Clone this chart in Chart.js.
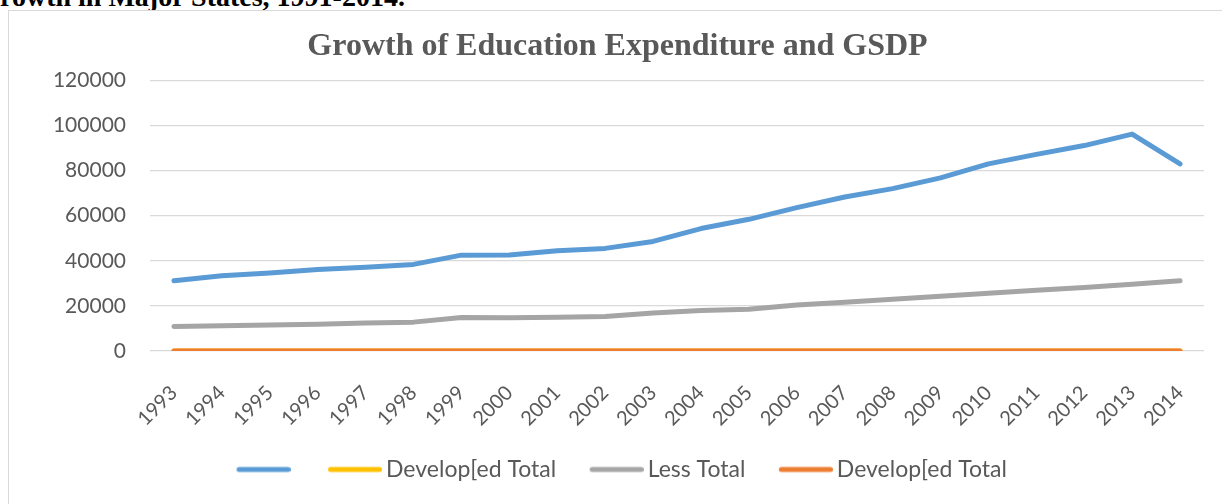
<!DOCTYPE html>
<html>
<head>
<meta charset="utf-8">
<script src="https://cdn.jsdelivr.net/npm/chart.js@4.4.1/dist/chart.umd.min.js"></script>
<style>
  html, body { margin: 0; padding: 0; background: #fff; overflow: hidden; }
  body { width: 1222px; height: 504px; position: relative; }
  #caption {
    position: absolute; left: 0; top: -17px; white-space: nowrap;
    font: bold 28px "Liberation Serif", serif; line-height: 28px; color: #000;
  }
  #frame {
    position: absolute; left: 8px; top: 10px; width: 1220px; height: 500px;
    border-left: 1px solid #d9d9d9; border-top: 1px solid #d9d9d9; background: #fff;
  }
  #wrap { position: absolute; left: 0; top: 0; width: 1213px; height: 493px; }
</style>
</head>
<body>
<div id="caption">rowth in Major States, 1991-2014.</div>
<div id="frame">
  <div id="wrap"><canvas id="lineChart"></canvas></div>
</div>
<script>
var years = ['1993', '1994', '1995', '1996', '1997', '1998', '1999', '2000', '2001', '2002', '2003',
             '2004', '2005', '2006', '2007', '2008', '2009', '2010', '2011', '2012', '2013', '2014'];

var seriesNames = ['', 'Develop[ed Total', 'Less Total', 'Develop[ed Total'];

// blue series (no legend text in the original)
var blueValues = [31200, 33400, 34600, 36100, 37100, 38400, 42500, 42600, 44500, 45500, 48600,
                  54300, 58400, 63600, 68300, 72000, 76800, 83000, 87200, 91100, 96200, 83000];
var yellowValues = [0, 0, 0, 0, 0, 0, 0, 0, 0, 0, 0, 0, 0, 0, 0, 0, 0, 0, 0, 0, 0, 0];
var lessValues = [10900, 11200, 11500, 11900, 12400, 12800, 14900, 14700, 15000, 15300, 16800,
                  18000, 18500, 20400, 21600, 23000, 24300, 25600, 26900, 28200, 29600, 31200];
var orangeValues = [0, 0, 0, 0, 0, 0, 0, 0, 0, 0, 0, 0, 0, 0, 0, 0, 0, 0, 0, 0, 0, 0];

var yTicks = [0, 20000, 40000, 60000, 80000, 100000, 120000];

var colors = ['#5b9bd5', '#ffc000', '#a5a5a5', '#ed7d31'];
var textColor = '#595959';

// legend swatch: a short thick line sitting at the right of a 70px image,
// so the text starts close to it like in the Excel legend
function swatch(color) {
    var c = document.createElement('canvas');
    c.width = 70;
    c.height = 8;
    var g = c.getContext('2d');
    g.strokeStyle = color;
    g.lineWidth = 5;
    g.lineCap = 'round';
    g.beginPath();
    g.moveTo(18.5, 4);
    g.lineTo(67.5, 4);
    g.stroke();
    return c;
}

function makeSet(i, vals, order) {
    return {
        label: seriesNames[i],
        data: vals,
        borderColor: colors[i],
        backgroundColor: colors[i],
        borderWidth: 5,
        borderCapStyle: 'round',
        borderJoinStyle: 'round',
        pointRadius: 0,
        pointHoverRadius: 0,
        pointStyle: swatch(colors[i]),
        tension: 0,
        fill: false,
        order: order
    };
}

var ctx = document.getElementById('lineChart');
var lineChart = new Chart(ctx, {
    type: 'line',
    data: {
        labels: years,
        datasets: [
            makeSet(0, blueValues, 3),
            makeSet(1, yellowValues, 2),
            makeSet(2, lessValues, 1),
            makeSet(3, orangeValues, 0)
        ]
    },
    options: {
        responsive: true,
        maintainAspectRatio: false,
        animation: false,
        layout: { padding: { left: 22, right: 18, top: 0, bottom: 13 } },
        plugins: {
            title: {
                display: true,
                text: 'Growth of Education Expenditure and GSDP',
                color: textColor,
                font: { family: '"Liberation Serif", serif', size: 32, weight: 'bold' },
                padding: { top: 17, bottom: 14 }
            },
            legend: {
                position: 'bottom',
                labels: {
                    usePointStyle: true,
                    pointStyleWidth: 55,
                    boxHeight: 8,
                    padding: 25,
                    color: textColor,
                    font: { family: 'Lato', size: 23 },
                    sort: function (a, b) { return a.datasetIndex - b.datasetIndex; }
                }
            },
            tooltip: { enabled: false }
        },
        scales: {
            x: {
                offset: true,
                grid: { display: false, drawTicks: false },
                border: { display: false },
                ticks: {
                    color: textColor,
                    font: { family: 'Lato', size: 20 },
                    minRotation: 45,
                    maxRotation: 45,
                    padding: 30,
                    autoSkip: false
                },
                afterFit: function (scale) {
                    scale.height = 82;
                    scale.paddingLeft = 0;
                    scale.paddingRight = 0;
                }
            },
            y: {
                min: 0,
                max: 120000,
                afterBuildTicks: function (scale) {
                    scale.ticks = yTicks.map(function (v) { return { value: v }; });
                },
                grid: { color: '#d9d9d9', lineWidth: 1.3, drawTicks: false },
                border: { display: false },
                ticks: {
                    color: textColor,
                    font: { family: 'Lato', size: 21 },
                    padding: 24,
                    callback: function (v) { return String(v); }
                },
                afterFit: function (scale) { scale.width = 119; }
            }
        }
    }
});
</script>
</body>
</html>
